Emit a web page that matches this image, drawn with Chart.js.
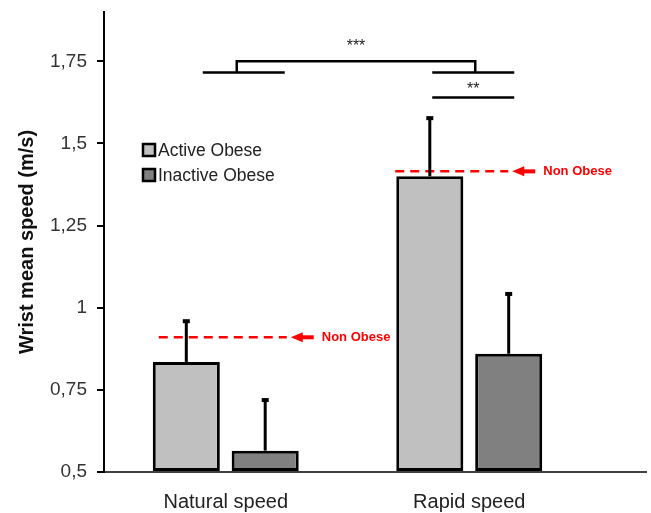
<!DOCTYPE html>
<html>
<head>
<meta charset="utf-8">
<script src="https://cdn.jsdelivr.net/npm/chart.js@4"></script>
<style>
  body { margin: 0; background: #fff; }
  #wrap { width: 651px; height: 513px; }
</style>
</head>
<body>
<div id="wrap"><canvas id="chart" width="651" height="513"></canvas></div>
<script>
const categories = ['Natural speed', 'Rapid speed'];
const seriesNames = ['Active Obese', 'Inactive Obese'];
const activeObese = [0.835, 1.40];
const inactiveObese = [0.565, 0.86];
const activeSD = [0.127, 0.18];
const inactiveSD = [0.157, 0.185];
const nonObese = [0.91, 1.415];
const yTicks = [0.5, 0.75, 1, 1.25, 1.5, 1.75];
const sigLabels = ['***', '**'];

const FONT = 'Liberation Sans, Arial, sans-serif';
Chart.defaults.font.family = FONT;

// error bars (upper half only), drawn from the bar top up
const errorBars = {
  id: 'errorBars',
  afterDatasetsDraw(chart) {
    const ctx = chart.ctx;
    const y = chart.scales.y;
    const sds = [activeSD, inactiveSD];
    ctx.save();
    ctx.strokeStyle = '#000';
    ctx.fillStyle = '#000';
    ctx.lineWidth = 3;
    chart.data.datasets.forEach((ds, di) => {
      chart.getDatasetMeta(di).data.forEach((bar, i) => {
        const top = y.getPixelForValue(ds.data[i] + sds[di][i]);
        ctx.beginPath();
        ctx.moveTo(bar.x, bar.y);
        ctx.lineTo(bar.x, top);
        ctx.stroke();
        ctx.fillRect(bar.x - 3.5, top - 1, 7, 4);
      });
    });
    ctx.restore();
  }
};

// red dashed "Non Obese" reference lines + significance brackets + legend
const extras = {
  id: 'extras',
  beforeDatasetsDraw(chart) {
    const ctx = chart.ctx;
    const x = chart.scales.x;
    const y = chart.scales.y;
    const c = categories.map((_, i) => x.getPixelForValue(i));
    ctx.save();
    // non obese lines
    const spans = [[-67, 65], [-74, 43]];
    nonObese.forEach((v, i) => {
      const py = y.getPixelForValue(v);
      const x0 = c[i] + spans[i][0];
      const x1 = c[i] + spans[i][1];
      ctx.strokeStyle = '#ff0000';
      ctx.lineWidth = 2.5;
      ctx.setLineDash([9, 6]);
      ctx.beginPath();
      ctx.moveTo(x0, py);
      ctx.lineTo(x1 - 4, py);
      ctx.stroke();
      ctx.setLineDash([]);
      ctx.fillStyle = '#ff0000';
      ctx.beginPath();
      ctx.moveTo(x1, py);
      ctx.lineTo(x1 + 12, py - 5);
      ctx.lineTo(x1 + 12, py + 5);
      ctx.closePath();
      ctx.fill();
      ctx.fillRect(x1 + 10, py - 2, 13, 4);
      ctx.font = 'bold 13px ' + FONT;
      ctx.textBaseline = 'middle';
      ctx.textAlign = 'left';
      ctx.fillText('Non Obese', x1 + 31, py);
    });
    ctx.restore();
  },
  afterDatasetsDraw(chart) {
    const ctx = chart.ctx;
    const x = chart.scales.x;
    const y = chart.scales.y;
    const c = categories.map((_, i) => x.getPixelForValue(i));
    ctx.save();

    // brackets
    ctx.strokeStyle = '#000';
    ctx.lineWidth = 2.5;
    const yHigh = y.getPixelForValue(1.75);
    const yLow = y.getPixelForValue(1.716);
    const y2 = y.getPixelForValue(1.64);
    const lx = c[0] + 11, rx = c[1] + 6;
    ctx.beginPath();
    ctx.moveTo(c[0] - 23, yLow); ctx.lineTo(c[0] + 59, yLow);
    ctx.moveTo(lx, yLow); ctx.lineTo(lx, yHigh); ctx.lineTo(rx, yHigh); ctx.lineTo(rx, yLow);
    ctx.moveTo(c[1] - 37, yLow); ctx.lineTo(c[1] + 45, yLow);
    ctx.moveTo(c[1] - 37, y2); ctx.lineTo(c[1] + 45, y2);
    ctx.stroke();
    ctx.fillStyle = '#222';
    ctx.font = '16px ' + FONT;
    ctx.textAlign = 'center';
    ctx.textBaseline = 'middle';
    ctx.fillText(sigLabels[0], (lx + rx) / 2, y.getPixelForValue(1.795));
    ctx.fillText(sigLabels[1], c[1] + 4, y.getPixelForValue(1.665));

    // x baseline across full width
    ctx.lineWidth = 1.5;
    ctx.beginPath();
    ctx.moveTo(chart.chartArea.left, chart.chartArea.bottom);
    ctx.lineTo(chart.width - 4, chart.chartArea.bottom);
    ctx.stroke();

    // legend
    const fills = chart.data.datasets.map(d => d.backgroundColor);
    ctx.font = '17.5px ' + FONT;
    ctx.textAlign = 'left';
    seriesNames.forEach((name, i) => {
      const cy = 150 + i * 25;
      ctx.fillStyle = fills[i];
      ctx.fillRect(143, cy - 6, 12, 12);
      ctx.lineWidth = 2.5;
      ctx.strokeStyle = '#000';
      ctx.strokeRect(143, cy - 6, 12, 12);
      ctx.fillStyle = '#222';
      ctx.fillText(name, 158, cy + 1);
    });
    ctx.restore();
  }
};

new Chart(document.getElementById('chart'), {
  type: 'bar',
  data: {
    labels: categories,
    datasets: [
      { label: seriesNames[0], data: activeObese, backgroundColor: '#c0c0c0' },
      { label: seriesNames[1], data: inactiveObese, backgroundColor: '#808080' }
    ]
  },
  options: {
    responsive: false,
    animation: false,
    layout: { padding: { top: 12, right: 60, bottom: 0, left: 0 } },
    datasets: {
      bar: {
        base: 0.5,
        borderColor: '#000',
        borderWidth: 3,
        borderSkipped: false,
        categoryPercentage: 0.648,
        barPercentage: 0.85
      }
    },
    plugins: { legend: { display: false }, tooltip: { enabled: false } },
    scales: {
      x: {
        grid: { display: false },
        border: { display: false },
        ticks: { color: '#222', font: { size: 20 }, padding: 10 },
        afterFit(s) { s.height = 41; s.paddingLeft = 0; s.paddingRight = 0; }
      },
      y: {
        min: 0.5,
        max: 1.9,
        afterBuildTicks(s) { s.ticks = yTicks.map(v => ({ value: v })); },
        afterFit(s) { s.width = 104; s.paddingTop = 0; s.paddingBottom = 0; },
        grid: { drawOnChartArea: false, drawTicks: true, tickLength: 7, color: '#000', lineWidth: 2 },
        border: { display: true, color: '#000', width: 2 },
        ticks: {
          color: '#333',
          font: { size: 19 },
          padding: 10,
          callback: v => String(v).replace('.', ',')
        },
        title: {
          display: true,
          text: 'Wrist mean speed (m/s)',
          color: '#111',
          font: { size: 20, weight: 'bold' },
          padding: { top: 15, bottom: 0 }
        }
      }
    }
  },
  plugins: [errorBars, extras]
});
</script>
</body>
</html>
